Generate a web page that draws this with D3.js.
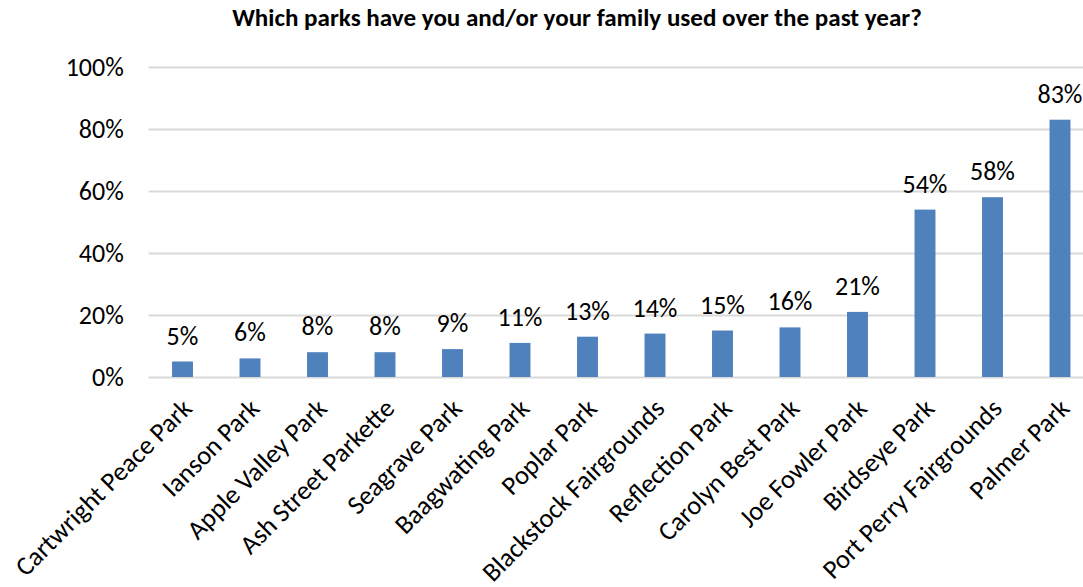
<!DOCTYPE html>
<html>
<head>
<meta charset="utf-8">
<script src="https://cdn.jsdelivr.net/npm/d3@7"></script>
<style>
  html, body { margin: 0; padding: 0; background: #fff; }
  svg { display: block; }
  text { font-family: Carlito, Lato, "Open Sans", sans-serif; fill: #000; }
</style>
</head>
<body>
<svg id="chart" width="1083" height="587"></svg>
<script>
// Park usage survey results
const parks = [
  "Cartwright Peace Park", "Ianson Park", "Apple Valley Park", "Ash Street Parkette",
  "Seagrave Park", "Baagwating Park", "Poplar Park", "Blackstock Fairgrounds",
  "Reflection Park", "Carolyn Best Park", "Joe Fowler Park", "Birdseye Park",
  "Port Perry Fairgrounds", "Palmer Park"
];
const usage = [5, 6, 8, 8, 9, 11, 13, 14, 15, 16, 21, 54, 58, 83];
const yTicks = [0, 20, 40, 60, 80, 100];
const titleText = "Which parks have you and/or your family used over the past year?";

const svg = d3.select("#chart");

const plot = { left: 148.75, right: 1093.75, top: 67, bottom: 377 };

const x = d3.scaleBand()
  .domain(parks)
  .range([plot.left, plot.right])
  .paddingInner(0.69)
  .paddingOuter(0.345);

const y = d3.scaleLinear()
  .domain([0, 100])
  .range([plot.bottom, plot.top]);

// Title
const title = svg.append("text")
  .attr("x", 577)
  .attr("y", 26)
  .attr("text-anchor", "middle")
  .style("font-weight", "bold")
  .style("font-size", "20px")
  .text(titleText);
const tl = title.node().getComputedTextLength();
title.style("font-size", (20 * 690 / tl).toFixed(2) + "px");

// Gridlines and y-axis labels
const yAxis = d3.axisLeft(y)
  .tickValues(yTicks)
  .tickSize(-(plot.right - plot.left))
  .tickPadding(25)
  .tickFormat(d => d + "%");

const gy = svg.append("g")
  .attr("transform", `translate(${plot.left},0)`)
  .call(yAxis);
gy.select(".domain").remove();
gy.selectAll(".tick line")
  .attr("stroke", "#D9D9D9")
  .attr("stroke-width", 2);
gy.selectAll(".tick text")
  .style("font-size", "26px")
  .attr("fill", "#000");

// Bars
svg.append("g")
  .selectAll("rect")
  .data(usage)
  .join("rect")
  .attr("x", (d, i) => x(parks[i]))
  .attr("width", x.bandwidth())
  .attr("y", d => y(d))
  .attr("height", d => y(0) - y(d))
  .attr("fill", "#4F81BD");

// Value labels
svg.append("g")
  .selectAll("text")
  .data(usage)
  .join("text")
  .attr("x", (d, i) => x(parks[i]) + x.bandwidth() / 2)
  .attr("y", d => y(d) - 17)
  .attr("text-anchor", "middle")
  .style("font-size", "26px")
  .text(d => d + "%");

// Category axis labels
const xAxis = d3.axisBottom(x).tickSize(0).tickPadding(0);
const gx = svg.append("g")
  .attr("transform", `translate(0,${plot.bottom})`)
  .call(xAxis);
gx.select(".domain").remove();
gx.selectAll(".tick text")
  .style("font-size", "26.5px")
  .attr("fill", "#000")
  .attr("text-anchor", "end")
  .attr("dy", "0")
  .attr("transform", "translate(11,33) rotate(-45)");
</script>
</body>
</html>
